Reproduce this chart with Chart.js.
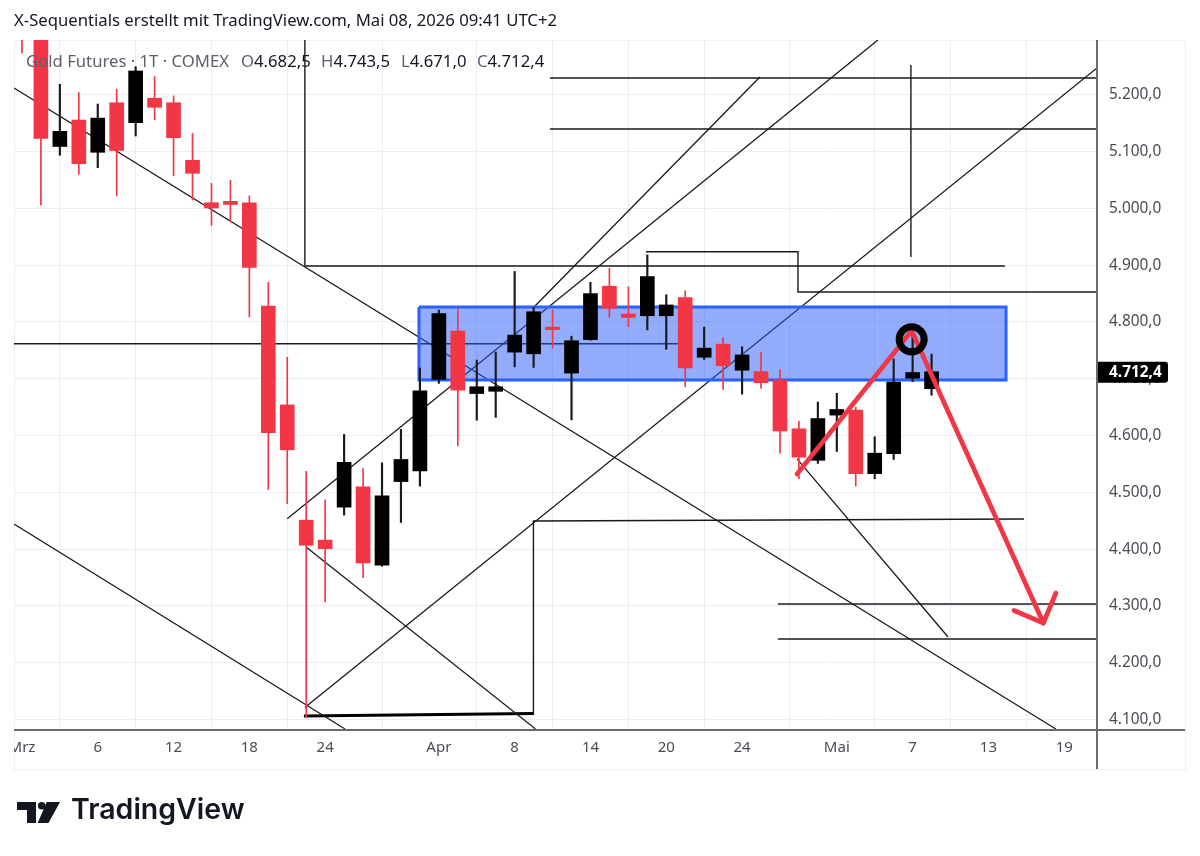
<!DOCTYPE html>
<html lang="de">
<head>
<meta charset="utf-8">
<title>Gold Futures</title>
<script src="https://cdn.jsdelivr.net/npm/chart.js@4"></script>
<style>
html,body{margin:0;padding:0;background:#fff;width:1200px;height:856px;overflow:hidden}
#wrap{position:relative;width:1200px;height:856px}
canvas{position:absolute;left:0;top:0}
.abs{position:absolute;white-space:pre}
#title{left:14px;top:8px;font:16.7px "Noto Sans",sans-serif;color:#131722}
.lg{top:49px;font:16.7px "Noto Sans",sans-serif;color:#5d606b}
.lg b{font-weight:400;color:#131722}
#frame{left:14px;top:40px;width:1170px;height:728px;border:1px solid #eef0f4;box-sizing:content-box}
#axisH{left:14px;top:729px;width:1171px;height:1.5px;background:#6a6b70}
#axisV{left:1096px;top:40px;width:1.5px;height:729px;background:#6a6b70}
#brand{left:71px;top:791px;font:600 28.5px Inter,sans-serif;color:#131722}
#logo{left:17px;top:801px}
</style>
</head>
<body>
<div id="wrap">
<div class="abs" id="frame"></div>
<canvas id="c" width="1200" height="856"></canvas>
<div class="abs" id="axisH"></div>
<div class="abs" id="axisV"></div>
<div class="abs" id="title">X-Sequentials erstellt mit TradingView.com, Mai 08, 2026 09:41 UTC+2</div>
<div class="abs lg" style="left:26px">Gold Futures · 1T · COMEX</div>
<div class="abs lg" style="left:241px">O<b>4.682,5</b></div>
<div class="abs lg" style="left:321px">H<b>4.743,5</b></div>
<div class="abs lg" style="left:401px">L<b>4.671,0</b></div>
<div class="abs lg" style="left:477px">C<b>4.712,4</b></div>
<svg class="abs" id="logo" width="46" height="24" viewBox="0 0 46 24"><path fill="#131722" d="M0 1H19V22H10V9H0z"/><circle cx="24.7" cy="4.7" r="3.8" fill="#131722"/><path fill="#131722" d="M29.7 1H43L31.5 22H20.7z"/></svg>
<div class="abs" id="brand">TradingView</div>
</div>
<script>
const lastClose = 4712.4;
const priceTicks = [4100,4200,4300,4400,4500,4600,4700,4800,4900,5000,5100,5200];
const timeTickIndex = [0,4,8,12,16,22,26,30,34,38,43,47,51,55];
const timeTickLabels = ["Mrz","6","12","18","24","Apr","8","14","20","24","Mai","7","13","19"];
const barIndex = [0,1,2,3,4,5,6,7,8,9,10,11,12,13,14,15,16,17,18,19,20,21,22,23,24,25,26,27,28,29,30,31,32,33,34,35,36,37,38,39,40,41,42,43,44,45,46,47,48];
const opens  = [5360,5340,5109,5155.6,5098.8,5186,5151,5194,5186,5084.7,5010,5012.5,5010,4828,4654,4451,4416,4474,4510,4372,4519,4538,4699,4784,4674,4678,4747,4744,4791,4710,4769,4863,4814,4811,4811,4843,4738,4761,4715,4712.5,4698,4612,4556.5,4636,4645,4533,4568,4701,4682.5];
const highs  = [5380,5370,5218.5,5204,5183.8,5209.7,5249.5,5232,5198,5132,5044,5049.5,5022,4870,4738,4537,4487,4602,4542,4552,4611,4719,4821,4824,4733,4747,4889,4826,4821,4775,4870,4894.5,4862,4918,4848,4855,4791,4772,4756.5,4747,4716,4625,4659,4674.5,4650,4598,4735,4777,4743.5];
const lows   = [5273.6,5006,5093.5,5060,5071.7,5022,5127.5,5156,5057.6,5014.8,4970,4976.6,4809,4505,4480,4105,4307,4460,4350,4370,4447,4511,4692,4582,4627,4632,4721,4720,4754,4627.5,4768,4808,4792,4786,4752,4686,4734,4681.5,4673,4683,4569,4524,4551,4572,4511,4524,4558,4695,4671];
const closes = [5320,5123,5135.7,5078.7,5159,5102,5242,5178,5124.5,5061.8,5000.7,5007,4896,4605,4575,4407,4401,4553,4376,4494,4558,4679,4815,4680,4686,4686,4777,4818,4786.5,4767,4850,4824,4808,4880,4830,4719,4754,4723,4742,4693,4608,4562,4630,4646,4533,4569,4694,4711,4712.4];

// drawings, each point is [bar index, price]
const trendLines = [
  [[-0.42,5212],[54.56,4083.5]],
  [[-0.42,4444.4],[17.05,4083.5]],
  [[14.99,4404],[27.1,4083.5]],
  [[40.9,4559],[48.87,4245.4]],
  [[14.0,4453.7],[45.17,5296.5]],
  [[26.97,4824.6],[38.94,5231.3]],
  [[14.93,4121.3],[56.73,5247.2]]
];
const levelPaths = [
  [[14.93,5296.5],[14.93,4898.6],[51.87,4898.6]],
  [[27.86,5229.6],[56.73,5229.6]],
  [[27.86,5139.8],[56.73,5139.8]],
  [[46.91,5252.5],[46.91,4914.4]],
  [[32.93,4923.8],[40.95,4923.8],[40.95,4852.8],[56.73,4852.8]],
  [[-0.42,4761.8],[34.93,4761.8]],
  [[26.99,4108.1],[26.99,4449.6],[52.88,4453.2]],
  [[39.89,4241.9],[56.73,4241.9]]
];
const grayLevel = [[39.89,4303.5],[56.73,4303.5]];
const thickLevel = [[14.88,4106.3],[26.99,4110.7]];
const zoneBox = [[20.95,4826.4],[51.93,4826.4],[51.93,4697.9],[20.95,4697.9],[20.95,4826.4]];
const arrowPath = [[40.9,4532.4],[46.95,4784.7],[53.9,4270]];
const arrowHead = [[52.35,4292],[53.9,4270],[54.56,4322.9]];
const ringPoint = [[46.95,4769.5]];

const UP = '#000000', DOWN = '#F23645';
const toXY = pts => pts.map(p => ({x:p[0], y:p[1]}));
const pathDs = (pts, width, color, order) => ({type:'line', data:toXY(pts), borderColor:color, borderWidth:width, pointRadius:0, fill:false, tension:0, order, borderJoinStyle:'miter', borderCapStyle:'butt'});
const candleColor = barIndex.map(i => closes[i] >= opens[i] ? UP : DOWN);
const upBars = barIndex.filter(i => closes[i] >= opens[i]);
const downBars = barIndex.filter(i => closes[i] < opens[i]);
const wickData = list => list.map(i => ({x:i, y:[lows[i],highs[i]]}));

const datasets = [
  ...trendLines.map(t => pathDs(t, 1.3, '#1a1a1a', 6)),
  ...levelPaths.map(t => pathDs(t, 1.4, '#1a1a1a', 6)),
  pathDs(grayLevel, 1.8, '#55565a', 6),
  pathDs(thickLevel, 3, '#000000', 6),
  Object.assign(pathDs(zoneBox, 3, '#2962FF', 5), {fill:'shape', backgroundColor:'rgba(41,90,250,0.5)'}),
  {type:'bar', grouped:false, order:4, barThickness:1.5, backgroundColor:'#1a1a1a', data:wickData(upBars)},
  {type:'bar', grouped:false, order:4, barThickness:1, backgroundColor:'#F23645', data:wickData(downBars)},
  {type:'bar', grouped:false, order:3, barThickness:14, backgroundColor:candleColor,
   data:barIndex.map(i => ({x:i, y:[Math.min(opens[i],closes[i]),Math.max(opens[i],closes[i])]}))},
  Object.assign(pathDs(arrowPath, 4.7, DOWN, 2), {borderCapStyle:'round', borderJoinStyle:'round'}),
  Object.assign(pathDs(arrowHead, 4.7, DOWN, 2), {borderCapStyle:'round', borderJoinStyle:'round'}),
  {type:'scatter', order:1, data:toXY(ringPoint), pointStyle:'circle', pointRadius:12.5, pointBorderWidth:7, pointBorderColor:'#000', pointBackgroundColor:'rgba(0,0,0,0)'}
];

const priceTag = {
  id:'priceTag',
  afterDraw(chart){
    const ctx = chart.ctx, y = chart.scales.y.getPixelForValue(lastClose);
    ctx.save();
    ctx.fillStyle = '#fff'; ctx.fillRect(0,731,14,37);
    ctx.fillStyle = '#000';
    ctx.beginPath(); ctx.roundRect(1097,y-10,71,21,[0,3,3,0]); ctx.fill();
    ctx.fillStyle = '#fff'; ctx.font = 'bold 15.4px "Noto Sans",sans-serif';
    ctx.textAlign = 'left'; ctx.textBaseline = 'middle';
    ctx.fillText('4.712,4', 1109, y+0.5);
    ctx.restore();
  }
};

new Chart(document.getElementById('c'), {
  data:{datasets},
  plugins:[priceTag],
  options:{
    responsive:false, animation:false, devicePixelRatio:1,
    layout:{autoPadding:false, padding:{left:14,top:40,right:15,bottom:87}},
    plugins:{legend:{display:false},tooltip:{enabled:false}},
    scales:{
      x:{type:'linear', min:-0.42, max:56.73, offset:false,
        grid:{color:'#e9eef5', lineWidth:1, drawTicks:true, tickLength:10, tickColor:'rgba(0,0,0,0)'},
        border:{display:false},
        afterBuildTicks(s){ s.ticks = timeTickIndex.map(v => ({value:v})); },
        afterFit(s){ s.height = 40; },
        ticks:{autoSkip:false, maxRotation:0, minRotation:0, padding:0, color:'#4a4c55', font:{family:'"Noto Sans",sans-serif', size:15},
          callback(v){ return timeTickLabels[timeTickIndex.indexOf(v)]; }}
      },
      y:{type:'linear', position:'right', min:4083.4, max:5296.5,
        grid:{color:'#e9eef5', lineWidth:1, drawTicks:false},
        border:{display:false},
        afterBuildTicks(s){ s.ticks = priceTicks.map(v => ({value:v})); },
        afterFit(s){ s.width = 88; },
        ticks:{padding:12, color:'#4a4c55', font:{family:'"Noto Sans",sans-serif', size:15.4},
          callback(v){ return String(v).replace(/(\d)(\d{3})$/,'$1.$2') + ',0'; }}
      }
    }
  }
});
</script>
</body>
</html>
